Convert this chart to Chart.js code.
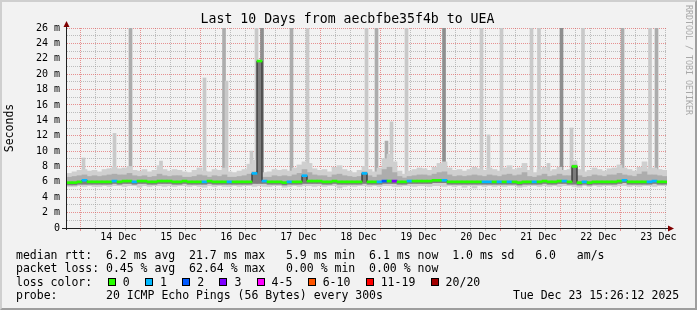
<!DOCTYPE html>
<html><head><meta charset="utf-8">
<script src="https://cdn.jsdelivr.net/npm/chart.js@4/dist/chart.umd.min.js"></script>
<style>
html,body{margin:0;padding:0;}
body{width:697px;height:310px;overflow:hidden;background:#f2f2f2;position:relative;font-family:"DejaVu Sans Mono",monospace;}
#frame{position:absolute;left:0;top:0;width:697px;height:310px;box-sizing:border-box;border-top:2px solid #cfcfcf;border-left:2px solid #cfcfcf;border-right:2px solid #9e9e9e;border-bottom:2px solid #9e9e9e;pointer-events:none;}
#c{position:absolute;left:0;top:0;}
#title{position:absolute;left:0;top:11.4px;width:695px;text-align:center;font-size:13.2px;line-height:16px;white-space:pre;color:#000;}
.row{position:absolute;left:16px;font-size:11.5px;line-height:14px;white-space:pre;color:#000;}
.box{display:inline-block;box-sizing:border-box;width:8px;height:8px;border:1px solid #000;margin-right:7px;}
.ent{margin-right:15.3px;}
#wm{position:absolute;left:684px;top:5px;writing-mode:vertical-rl;font-size:8.3px;line-height:9px;color:#a8a8a8;white-space:pre;font-family:"DejaVu Sans Mono",monospace;}
</style></head>
<body>
<canvas id="c" width="697" height="310"></canvas>
<div id="title"></div>
<div id="wm">RRDTOOL / TOBI OETIKER</div>
<div class="row" id="r1" style="top:247.5px"></div>
<div class="row" id="r2" style="top:261px"></div>
<div class="row" id="r3" style="top:274.7px"></div>
<div class="row" id="r4" style="top:288.3px"></div>
<div class="row" id="r5" style="top:288.3px;left:513px"></div>
<div id="frame"></div>
<script>
// ---- data ----
const TITLE = 'Last 10 Days from aecbfbe35f4b to UEA';
const START_HOUR = 15 + 26.2/60;          // Dec 13 15:26:12, hours since Dec 13 00:00
const SPAN_HOURS = 240;                     // 10 days
const BUCKET_HOURS = 2;
const dayLabels = ['14 Dec','15 Dec','16 Dec','17 Dec','18 Dec','19 Dec','20 Dec','21 Dec','22 Dec','23 Dec'];

const median = [
 5.9,5.9,6.0,6.2,6.0,6.0,6.0,6.0,6.0,6.1,
 6.0,6.1,6.1,6.0,6.1,6.1,6.0,6.0,6.1,6.1,
 6.1,6.0,6.0,6.1,6.0,6.0,6.0,6.0,6.1,6.0,
 6.0,6.0,6.0,6.0,6.0,6.0,6.0,7.1,21.7,6.1,
 6.0,6.0,6.0,5.9,6.0,6.0,6.0,6.8,6.1,6.1,
 6.1,6.0,6.0,6.1,6.0,6.0,6.0,6.0,6.0,7.1,
 6.0,6.0,6.0,6.1,6.1,6.1,6.0,6.0,6.1,6.1,
 6.1,6.1,6.1,6.2,6.2,6.2,6.0,6.0,6.0,6.0,
 6.0,6.0,6.0,6.0,6.0,6.0,6.0,6.0,6.0,6.0,
 5.9,6.0,6.0,6.0,6.0,6.1,6.0,6.0,6.1,6.1,
 6.0,8.0,5.9,6.0,5.9,6.0,6.0,6.0,6.0,6.0,
 6.1,6.2,6.0,6.0,6.0,6.0,6.0,6.1,6.0,6.0];
const lossLevel = [
 0,0,0,1,0,0,0,0,0,1,
 0,0,0,1,0,0,0,0,0,0,
 0,0,0,0,0,0,0,1,0,0,
 0,0,1,0,0,0,0,1,0,1,
 0,0,0,0,1,0,0,1,0,0,
 0,0,0,0,0,0,0,0,0,1,
 0,0,1,2,0,3,0,0,1,0,
 0,0,0,0,0,1,0,0,0,0,
 0,0,0,1,1,0,1,0,1,0,
 0,0,0,1,0,0,0,0,0,1,
 0,0,0,1,0,0,0,0,0,0,
 0,1,0,0,0,0,1,1,0,0];
const smokeTop = [
 7.1,7.3,7.5,7.6,7.4,7.5,7.3,7.6,7.7,7.9,
 7.7,7.8,8.0,7.5,7.4,7.6,7.3,7.5,8.1,7.6,
 7.4,7.6,7.5,7.3,7.2,7.5,7.8,7.4,7.3,7.6,
 7.5,7.8,7.3,7.2,7.4,7.6,8.3,8.8,9.0,7.2,
 7.3,7.6,7.5,7.6,7.4,7.8,8.2,8.6,8.4,7.7,
 7.5,7.6,7.3,7.9,8.1,7.6,7.4,7.2,7.5,8.0,
 7.6,7.3,7.8,9.0,9.6,8.6,7.4,7.0,7.4,7.6,
 7.8,7.7,7.5,7.9,8.4,8.6,7.8,7.5,7.6,7.4,
 7.6,7.9,7.7,7.5,7.8,7.6,7.4,7.8,8.1,7.6,
 7.8,8.4,7.5,7.2,7.6,7.9,7.4,7.6,7.9,7.5,
 7.6,8.7,7.6,7.3,7.5,7.8,7.6,7.4,7.7,7.8,
 8.2,7.8,7.6,7.4,7.9,8.6,7.7,7.8,7.6,7.5];
const midTop = [
 6.6,6.7,6.8,6.9,6.7,6.8,6.7,6.8,6.9,7.0,
 6.9,6.9,7.1,6.8,6.7,6.8,6.6,6.7,7.0,6.8,
 6.7,6.8,6.8,6.6,6.6,6.7,6.9,6.8,6.6,6.8,
 6.7,6.9,6.6,6.6,6.7,6.8,7.0,7.3,7.5,6.6,
 6.6,6.8,6.7,6.8,6.7,6.9,7.1,7.6,7.2,6.9,
 6.8,6.8,6.6,6.9,7.0,6.8,6.7,6.6,6.7,7.3,
 6.8,6.6,6.9,7.6,7.9,7.2,6.7,6.5,6.7,6.8,
 6.9,6.9,6.8,7.0,7.2,7.3,6.9,6.7,6.8,6.7,
 6.8,6.9,6.8,6.7,6.9,6.8,6.7,6.9,7.0,6.8,
 6.9,7.2,6.7,6.6,6.8,7.0,6.7,6.8,7.0,6.8,
 6.8,8.2,6.8,6.6,6.7,6.9,6.8,6.7,6.9,6.9,
 7.1,6.9,6.8,6.7,7.0,7.3,6.9,6.9,6.8,6.7];
const darkLow = [
 5.6,5.6,5.7,5.7,5.7,5.7,5.7,5.7,5.7,5.8,
 5.7,5.8,5.8,5.7,5.8,5.8,5.7,5.7,5.8,5.8,
 5.8,5.7,5.7,5.8,5.7,5.7,5.7,5.7,5.8,5.7,
 5.7,5.7,5.7,5.7,5.7,5.7,5.7,5.8,5.8,5.8,
 5.7,5.7,5.7,5.6,5.7,5.7,5.7,5.8,5.8,5.8,
 5.8,5.7,5.7,5.8,5.7,5.7,5.7,5.7,5.7,5.8,
 5.7,5.7,5.7,5.8,5.8,5.8,5.7,5.7,5.8,5.8,
 5.8,5.8,5.8,5.9,5.9,5.9,5.7,5.7,5.7,5.7,
 5.7,5.7,5.7,5.7,5.7,5.7,5.7,5.7,5.7,5.7,
 5.6,5.7,5.7,5.7,5.7,5.8,5.7,5.7,5.8,5.8,
 5.7,5.7,5.6,5.7,5.6,5.7,5.7,5.7,5.7,5.7,
 5.8,5.9,5.7,5.7,5.7,5.7,5.7,5.8,5.7,5.7];
const smokeLow = [
 5.4,5.4,5.5,5.4,5.5,5.4,5.4,5.5,5.4,5.5,
 5.5,5.4,5.5,5.5,5.3,5.5,5.4,5.5,5.5,5.4,
 5.5,5.4,5.5,5.5,5.4,5.5,5.4,5.3,5.5,5.4,
 5.5,5.4,5.4,5.5,5.4,5.5,5.5,5.4,5.5,5.4,
 5.4,5.5,5.5,5.3,5.4,5.5,5.4,5.5,5.5,5.4,
 5.5,5.4,5.5,5.5,5.2,5.4,5.5,5.4,5.5,5.5,
 5.4,5.5,5.4,5.5,5.5,5.4,5.4,5.5,5.5,5.4,
 5.5,5.5,5.4,5.5,5.5,5.4,5.5,5.4,5.5,5.3,
 5.5,5.2,5.5,5.4,5.5,5.4,5.5,5.4,5.5,5.5,
 5.3,5.4,5.5,5.5,5.4,5.5,5.4,5.5,5.4,5.5,
 5.5,5.4,5.3,5.5,5.4,5.5,5.4,5.5,5.5,5.4,
 5.5,5.5,5.4,5.5,5.4,5.5,5.5,5.4,5.5,5.5];
// isolated tall smoke spikes: time (hours since Dec 13 00:00), top (ms), shade (0 light, 1 mid, 2 dark)
const spikeHour  = [22.04,34.44,40.84,53.04,70.44,78.24,79.24,89.24,91.24,93.44,105.24,111.64,135.24,139.24,143.24,145.24,151.24,166.24,181.24,184.04,189.24,201.24,204.24,208.04,213.24,217.24,221.84,237.64,248.64,251.24];
const spikeTop   = [9.1,12.3,26,8.7,19.5,26,19.1,10.0,26,26,26,26,26,26,11.3,13.8,26,26,26,12.1,26,26,26,8.4,26,13.0,26,26,26,26];
const spikeShade = [0,0,1,0,0,1,0,0,0,2,1,0,0,1,1,0,0,2,0,0,0,0,0,0,2,0,0,1,0,1];

const lossLabels = ['0','1','2','3','4-5','6-10','11-19','20/20'];
const lossColors = ['#26ff00','#00b8ff','#0059ff','#7e00ff','#ff00ff','#ff5500','#ff0000','#a10000'];

const legendRtt  = 'median rtt:  6.2 ms avg  21.7 ms max   5.9 ms min  6.1 ms now  1.0 ms sd   6.0   am/s';
const legendLoss = 'packet loss: 0.45 % avg  62.64 % max   0.00 % min  0.00 % now';
const legendProbe = 'probe:       20 ICMP Echo Pings (56 Bytes) every 300s';
const legendDate = 'Tue Dec 23 15:26:12 2025';

// ---- styles ----
const FONT = '"DejaVu Sans Mono", monospace';
const GRID = 'rgba(143,143,143,0.55)';
const MGRID = 'rgba(222,79,79,0.6)';
const SPIKE_SHADES = ['#c9c9c9','#acacac','#8e8e8e'];
const BAND = 0.13;
const SPIKE_BASE = 6.8;

// ---- text ----
document.getElementById('title').textContent = TITLE;
document.getElementById('r1').textContent = legendRtt;
document.getElementById('r2').textContent = legendLoss;
document.getElementById('r4').textContent = legendProbe;
document.getElementById('r5').textContent = legendDate;
const r3 = document.getElementById('r3');
const lead = document.createElement('span'); lead.textContent = 'loss color:'; lead.style.marginRight = '15.5px'; r3.appendChild(lead);
lossLabels.forEach((l,i)=>{
  const b = document.createElement('span'); b.className='box'; b.style.background = lossColors[i]; r3.appendChild(b);
  const t = document.createElement('span'); t.className='ent'; t.textContent = l; r3.appendChild(t);
});

// ---- chart ----
const bucketHour = median.map((_, i) => START_HOUR + BUCKET_HOURS * (i + 0.5));
const band = (lo, hi) => bucketHour.map((h, i) => ({x: h, y: [lo[i], hi[i]]}));

const axesPlugin = {
  id: 'rrdAxes',
  afterDatasetsDraw(chart) {
    const {ctx, chartArea: a} = chart;
    ctx.save();
    ctx.strokeStyle = '#202020';
    ctx.lineWidth = 1;
    ctx.beginPath();
    ctx.moveTo(a.left - 0.5, a.bottom + 2); ctx.lineTo(a.left - 0.5, a.top - 3);
    ctx.moveTo(a.left - 5, a.bottom + 0.5); ctx.lineTo(a.right + 2, a.bottom + 0.5);
    ctx.stroke();
    ctx.fillStyle = '#800000';
    ctx.beginPath();
    ctx.moveTo(a.left - 3.5, a.top - 1); ctx.lineTo(a.left + 2.5, a.top - 1); ctx.lineTo(a.left - 0.5, a.top - 7); ctx.closePath();
    ctx.fill();
    ctx.beginPath();
    ctx.moveTo(a.right + 1, a.bottom - 2.5); ctx.lineTo(a.right + 1, a.bottom + 3.5); ctx.lineTo(a.right + 7, a.bottom + 0.5); ctx.closePath();
    ctx.fill();
    ctx.restore();
  }
};

new Chart(document.getElementById('c'), {
  type: 'bar',
  data: {
    datasets: [
      {label: 'spikes', data: spikeHour.map((h, i) => ({x: h, y: [SPIKE_BASE, spikeTop[i]]})),
       backgroundColor: c => SPIKE_SHADES[spikeShade[c.dataIndex]], barThickness: 3, grouped: false, order: 10},
      {label: 'smoke outer', data: band(smokeLow, smokeTop), backgroundColor: '#cfcfcf', barThickness: 5, grouped: false, order: 9},
      {label: 'smoke mid', data: band(darkLow, midTop), backgroundColor: '#adadad', barThickness: 5, grouped: false, order: 8},
      {label: 'smoke inner', data: band(darkLow, median), backgroundColor: '#7c7c7c', barThickness: 5, grouped: false, order: 7},
      {type: 'line', label: 'median', data: bucketHour.map((h, i) => ({x: h, y: median[i]})),
       borderColor: '#202020', borderWidth: 1, stepped: 'middle', pointRadius: 0, fill: false, order: 6},
      {label: 'loss', data: bucketHour.map((h, i) => ({x: h, y: [median[i] - BAND, median[i] + BAND]})),
       backgroundColor: c => lossColors[lossLevel[c.dataIndex]], barThickness: 5, grouped: false, order: 5}
    ]
  },
  options: {
    responsive: false,
    animation: false,
    devicePixelRatio: 1,
    layout: {padding: {left: 0, right: 30, top: 28, bottom: 0}},
    plugins: {legend: {display: false}, tooltip: {enabled: false}, title: {display: false}},
    scales: {
      x: {
        type: 'linear', min: START_HOUR, max: START_HOUR + SPAN_HOURS, offset: false,
        afterBuildTicks(s) { const t = []; for (let h = 18; h <= START_HOUR + SPAN_HOURS; h += 6) t.push({value: h}); s.ticks = t; },
        afterFit(s) { s.height = 82; },
        grid: {color: c => (c.tick && c.tick.value % 24 === 0) ? MGRID : GRID,
               tickColor: c => (c.tick && c.tick.value % 24 === 0) ? MGRID : GRID,
               tickLength: 3, lineWidth: 1, tickBorderDash: []},
        border: {display: false, dash: [1, 1]},
        ticks: {autoSkip: false, maxRotation: 0, minRotation: 0, padding: 0, color: '#000',
                font: {family: FONT, size: 10},
                callback: v => (v % 24 === 12) ? dayLabels[(v - 36) / 24] : ''}
      },
      y: {
        type: 'linear', min: 0, max: 26,
        afterFit(s) { s.width = 67; },
        grid: {color: c => (c.tick && c.tick.value % 2 === 0) ? MGRID : GRID, drawTicks: false, lineWidth: 1},
        border: {display: false, dash: [1, 1]},
        ticks: {stepSize: 1, autoSkip: false, padding: 7, color: '#000', font: {family: FONT, size: 10},
                callback: v => v === 0 ? '0' : (v % 2 === 0 ? v + ' m' : '')},
        title: {display: true, text: 'Seconds', color: '#000', font: {family: FONT, size: 11.5}, padding: {top: 3.5, bottom: 0}}
      }
    }
  },
  plugins: [axesPlugin]
});
</script>
</body></html>
